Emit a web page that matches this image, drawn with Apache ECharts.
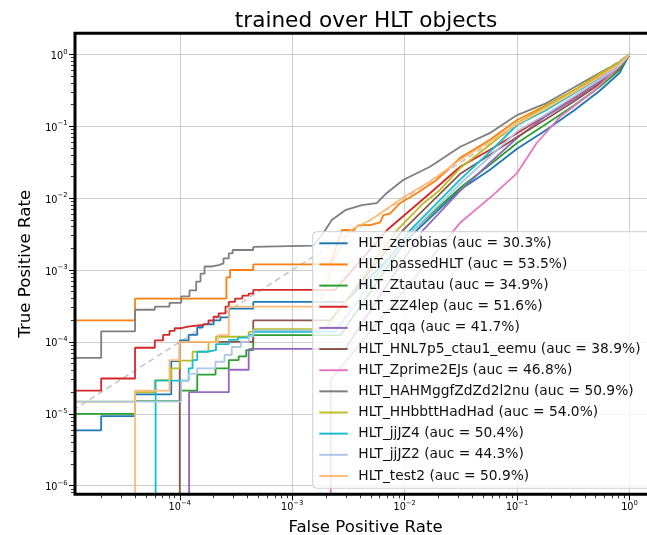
<!DOCTYPE html>
<html>
<head>
<meta charset="utf-8">
<script src="https://cdn.jsdelivr.net/npm/echarts@6/dist/echarts.min.js"></script>
<style>
html,body{margin:0;padding:0;background:#ffffff;}
#chart{width:647px;height:535px;}
</style>
</head>
<body>
<div id="chart"></div>
<script>
// ---------- names, AUC labels, colours ----------
const seriesNames = ['HLT_zerobias','HLT_passedHLT','HLT_Ztautau','HLT_ZZ4lep','HLT_qqa','HLT_HNL7p5_ctau1_eemu','HLT_Zprime2EJs','HLT_HAHMggfZdZd2l2nu','HLT_HHbbttHadHad','HLT_jjJZ4','HLT_jjJZ2','HLT_test2'];
const aucLabels = ['30.3%','53.5%','34.9%','51.6%','41.7%','38.9%','46.8%','50.9%','54.0%','50.4%','44.3%','50.9%'];
const colors = ['#1f77b4','#ff7f0e','#2ca02c','#d62728','#9467bd','#8c564b','#e377c2','#7f7f7f','#bcbd22','#17becf','#aec7e8','#ffbb78'];

// ---------- ROC points [FPR, TPR]; "Low" = staircase region, "High" = upper region ----------
const zerobiasLow = [[1e-6,5.9e-6],[2.0e-5,9.3e-6],[4.0e-5,1.87e-5],[8.4e-5,5.4e-5],[1.0e-4,1.05e-4],[1.2e-4,1.25e-4],[1.43e-4,1.6e-4],[1.6e-4,1.75e-4],[2.0e-4,2.0e-4],[2.3e-4,2.2e-4],[2.73e-4,2.9e-4],[4.5e-4,3.6e-4]];
const zerobiasHigh = [[4.5e-4,3.6e-4],[2.96e-3,3.6e-4],[0.0129,3.6e-3],[0.031,0.013],[0.057,0.0246],[0.1,0.0485],[0.176,0.086],[0.325,0.168],[0.54,0.309],[0.815,0.55],[1,1]];

const passedLow = [[1e-6,2.0e-4],[4.0e-5,4.0e-4],[2.6e-4,7.9e-4],[2.8e-4,1.0e-3],[4.5e-4,1.2e-3]];
const passedHigh = [[4.5e-4,1.2e-3],[2.18e-3,1.2e-3],[2.77e-3,3.6e-3],[3.5e-3,3.6e-3],[3.89e-3,4.2e-3],[4.93e-3,4.2e-3],[6.05e-3,4.6e-3],[6.47e-3,5.8e-3],[7.4e-3,6.1e-3],[9.1e-3,8.5e-3],[0.0128,0.0117],[0.0193,0.0179],[0.031,0.036],[0.057,0.0643],[0.1,0.122],[0.176,0.191],[0.325,0.319],[0.54,0.499],[0.815,0.757],[1,1]];

const ztautauLow = [[1e-6,1.0e-5],[4.0e-5,1.5e-5],[1.0e-4,2.1e-5],[1.43e-4,3.5e-5],[2.08e-4,4.3e-5],[2.73e-4,5.6e-5],[3.34e-4,6.3e-5],[3.9e-4,7.7e-5],[4.5e-4,1.24e-4]];
const ztautauHigh = [[4.5e-4,1.24e-4],[2.67e-3,1.24e-4],[0.0119,3.6e-3],[0.031,0.0138],[0.057,0.0289],[0.1,0.0583],[0.176,0.104],[0.325,0.197],[0.54,0.351],[0.815,0.605],[1,1]];

const zz4lepLow = [[1e-6,2.1e-5],[2.0e-5,3.1e-5],[4.0e-5,8.3e-5],[6.0e-5,1.05e-4],[7.1e-5,1.25e-4],[8.1e-5,1.42e-4],[9.0e-5,1.55e-4],[1.03e-4,1.65e-4],[1.22e-4,1.72e-4],[1.6e-4,1.8e-4],[1.8e-4,2.0e-4],[2.0e-4,2.24e-4],[2.22e-4,2.5e-4],[2.55e-4,3.1e-4],[2.73e-4,3.6e-4],[3.1e-4,4.0e-4],[3.6e-4,4.4e-4],[4.1e-4,4.7e-4],[4.5e-4,5.3e-4]];
const zz4lepHigh = [[4.5e-4,5.3e-4],[2.41e-3,5.3e-4],[6.98e-3,3.6e-3],[0.0168,0.0117],[0.031,0.0271],[0.057,0.0467],[0.1,0.080],[0.176,0.139],[0.325,0.255],[0.54,0.425],[0.815,0.688],[1,1]];

const qqaLow = [[1e-6,1e-7],[1.21e-4,2.0e-5],[2.73e-4,4.1e-5],[4.1e-4,8.0e-5]];
const qqaHigh = [[4.1e-4,8.0e-5],[2.96e-3,8.0e-5],[0.0146,3.6e-3],[0.031,0.0125],[0.057,0.0308],[0.1,0.0685],[0.176,0.134],[0.325,0.239],[0.54,0.399],[0.815,0.666],[1,1]];

const hnlLow = [[1e-6,1e-7],[1.0e-4,1.0e-4],[4.5e-4,2.0e-4]];
const hnlHigh = [[4.5e-4,2.0e-4],[2.18e-3,2.0e-4],[9.68e-3,3.6e-3],[0.031,0.0216],[0.057,0.0398],[0.1,0.0708],[0.176,0.122],[0.325,0.224],[0.54,0.386],[0.815,0.645],[1,1]];

const zprimeLow = [[1e-6,1e-7],[2.2e-3,3.0e-5]];
const zprimeHigh = [[2.2e-3,3.0e-5],[0.031,0.0045],[0.061,0.011],[0.1,0.0223],[0.149,0.058],[0.239,0.134],[0.472,0.299],[0.815,0.688],[1,1]];

const hahmLow = [[1e-6,6.0e-5],[2.0e-5,1.4e-4],[4.0e-5,2.8e-4],[6.0e-5,3.1e-4],[8.1e-5,3.5e-4],[1.03e-4,4.3e-4],[1.22e-4,5.2e-4],[1.4e-4,6.9e-4],[1.53e-4,8.9e-4],[1.66e-4,1.12e-3],[1.95e-4,1.17e-3],[2.22e-4,1.24e-3],[2.45e-4,1.45e-3],[2.73e-4,1.7e-3],[2.95e-4,1.9e-3],[4.5e-4,2.1e-3]];
const hahmHigh = [[4.5e-4,2.1e-3],[1.54e-3,2.18e-3],[1.77e-3,2.88e-3],[1.97e-3,3.6e-3],[2.25e-3,4.95e-3],[2.96e-3,6.8e-3],[4.16e-3,8.0e-3],[5.65e-3,8.5e-3],[6.9e-3,0.0117],[9.7e-3,0.0179],[0.0168,0.0273],[0.031,0.0514],[0.057,0.08],[0.1,0.143],[0.176,0.204],[0.325,0.351],[0.54,0.55],[0.815,0.78],[1,1]];

const hhbbttLow = [[1e-6,1.48e-5],[4.0e-5,2.0e-5],[6.0e-5,2.95e-5],[8.4e-5,4.3e-5],[1.0e-4,5.5e-5],[1.3e-4,7.3e-5],[1.8e-4,1.0e-4],[2.1e-4,1.18e-4],[4.1e-4,1.38e-4],[4.5e-4,1.5e-4]];
const hhbbttHigh = [[4.5e-4,1.5e-4],[1.97e-3,1.5e-4],[8.57e-3,3.6e-3],[0.0119,6.1e-3],[0.0147,8.5e-3],[0.0206,0.013],[0.031,0.026],[0.057,0.0547],[0.1,0.111],[0.176,0.185],[0.325,0.319],[0.54,0.532],[0.815,0.78],[1,1]];

const jjJZ4Low = [[1e-6,1e-7],[6.1e-5,2.9e-5],[1.2e-4,4.3e-5],[1.3e-4,5.6e-5],[1.43e-4,7.3e-5],[1.75e-4,7.7e-5],[2.1e-4,9.3e-5],[2.73e-4,1.07e-4],[3.3e-4,1.15e-4],[4.1e-4,1.25e-4],[4.5e-4,1.38e-4]];
const jjJZ4High = [[4.5e-4,1.38e-4],[2.41e-3,1.38e-4],[0.0112,3.6e-3],[0.031,0.0179],[0.057,0.0438],[0.1,0.104],[0.176,0.163],[0.325,0.29],[0.54,0.468],[0.815,0.733],[1,1]];

const jjJZ2Low = [[1e-6,1.48e-5],[1.03e-4,2.9e-5],[1.2e-4,3.6e-5],[1.43e-4,4.3e-5],[2.08e-4,5.3e-5],[2.5e-4,6.6e-5],[2.9e-4,8.5e-5],[3.5e-4,1.0e-4],[4.1e-4,1.2e-4],[4.5e-4,1.45e-4]];
const jjJZ2High = [[4.5e-4,1.45e-4],[2.41e-3,1.45e-4],[0.0119,3.6e-3],[0.031,0.0157],[0.057,0.0373],[0.1,0.085],[0.176,0.143],[0.325,0.263],[0.54,0.44],[0.815,0.688],[1,1]];

const test2Low = [[1e-6,1e-7],[4.0e-5,2.1e-5],[8.1e-5,5.6e-5],[1.0e-4,1.0e-4],[2.2e-4,1.24e-4],[2.73e-4,3.1e-4]];
const test2High = [[2.73e-4,3.1e-4],[1.7e-3,3.1e-4],[2.4e-3,1.5e-3],[3.3e-3,3.6e-3],[5.0e-3,5.0e-3],[0.01,0.0105],[0.0168,0.017],[0.031,0.0339],[0.057,0.061],[0.1,0.107],[0.176,0.173],[0.325,0.299],[0.54,0.483],[0.815,0.733],[1,1]];

const diagonal = [[1e-6,1e-6],[1,1]];

// ---------- tick values ----------
const xMajorTicks = [1e-4,1e-3,1e-2,1e-1,1];
const xMinorTicks = [2e-5,3e-5,4e-5,5e-5,6e-5,7e-5,8e-5,9e-5,2e-4,3e-4,4e-4,5e-4,6e-4,7e-4,8e-4,9e-4,2e-3,3e-3,4e-3,5e-3,6e-3,7e-3,8e-3,9e-3,2e-2,3e-2,4e-2,5e-2,6e-2,7e-2,8e-2,9e-2,0.2,0.3,0.4,0.5,0.6,0.7,0.8,0.9];
const yMajorTicks = [1e-6,1e-5,1e-4,1e-3,1e-2,1e-1,1];
const yMinorTicks = [8e-7,9e-7,2e-6,3e-6,4e-6,5e-6,6e-6,7e-6,8e-6,9e-6,2e-5,3e-5,4e-5,5e-5,6e-5,7e-5,8e-5,9e-5,2e-4,3e-4,4e-4,5e-4,6e-4,7e-4,8e-4,9e-4,2e-3,3e-3,4e-3,5e-3,6e-3,7e-3,8e-3,9e-3,2e-2,3e-2,4e-2,5e-2,6e-2,7e-2,8e-2,9e-2,0.2,0.3,0.4,0.5,0.6,0.7,0.8,0.9];

const lowParts = [zerobiasLow,passedLow,ztautauLow,zz4lepLow,qqaLow,hnlLow,zprimeLow,hahmLow,hhbbttLow,jjJZ4Low,jjJZ2Low,test2Low];
const highParts = [zerobiasHigh,passedHigh,ztautauHigh,zz4lepHigh,qqaHigh,hnlHigh,zprimeHigh,hahmHigh,hhbbttHigh,jjJZ4High,jjJZ2High,test2High];

const FONT = 'DejaVu Sans';
function powLabel(v){
  const n = Math.round(Math.log10(v));
  return '{b|10}{s|' + (n < 0 ? '\u2212' + (-n) : String(n)) + '}';
}
const labelRich = {
  b: {fontFamily: FONT, fontSize: 9.7, color: '#000', lineHeight: 16},
  s: {fontFamily: FONT, fontSize: 6.8, color: '#000', lineHeight: 9, verticalAlign: 'top'}
};

const legendNames = seriesNames.map((n,i) => n + ' (auc = ' + aucLabels[i] + ')');

const series = [{
  type: 'line', name: 'diag', data: diagonal, symbol: 'none', silent: true,
  lineStyle: {color: '#c4c4c4', width: 1.5, type: [6,4]}, emphasis: {disabled: true}
}];
legendNames.forEach((nm, i) => {
  series.push({
    type: 'line', name: nm, data: lowParts[i], step: 'end', symbol: 'none', showSymbol: false, silent: true,
    lineStyle: {color: colors[i], width: 1.8}, itemStyle: {color: colors[i]}, emphasis: {disabled: true}
  });
  series.push({
    type: 'line', name: nm, data: highParts[i], symbol: 'none', showSymbol: false, silent: true,
    lineStyle: {color: colors[i], width: 1.8}, itemStyle: {color: colors[i]}, emphasis: {disabled: true}
  });
});

const xCommon = {type: 'log', logBase: 10, min: 1.17e-5, max: 1.72, gridIndex: 0, position: 'bottom'};
const yCommon = {type: 'log', logBase: 10, min: 7.6e-7, max: 1.96, gridIndex: 0, position: 'left'};

const option = {
  animation: false,
  backgroundColor: '#ffffff',
  title: {
    text: 'trained over HLT objects', left: 366, top: 10, textAlign: 'center', padding: 0,
    textStyle: {fontFamily: FONT, fontSize: 21.6, fontWeight: 'normal', color: '#000'}
  },
  grid: {
    left: 75, top: 33.3, width: 581, height: 461, show: true, z: 5,
    borderColor: '#000', borderWidth: 3, backgroundColor: 'transparent',
    outerBoundsMode: 'none', containLabel: false
  },
  legend: {
    data: legendNames, orient: 'vertical', left: 312.7, top: 231.7,
    itemWidth: 28.4, itemHeight: 14, itemGap: 7.15,
    padding: [4.6, 12, 5.3, 5.6], selectedMode: false,
    itemStyle: {opacity: 0, borderWidth: 0},
    lineStyle: {width: 2},
    backgroundColor: 'rgba(255,255,255,0.8)', borderColor: '#cfcfcf', borderWidth: 1, borderRadius: 4,
    textStyle: {fontFamily: FONT, fontSize: 13.8, color: '#111', lineHeight: 14, padding: [0,0,0,5.6]}
  },
  xAxis: [
    Object.assign({}, xCommon, {
      name: 'False Positive Rate', nameLocation: 'middle', nameGap: 24.5,
      nameTextStyle: {fontFamily: FONT, fontSize: 16.6, color: '#000'},
      axisLine: {show: false, onZero: false},
      axisTick: {show: true, customValues: xMajorTicks, length: 6, lineStyle: {color: '#000', width: 1}},
      axisLabel: {show: true, customValues: xMajorTicks, margin: 5.5, formatter: powLabel, rich: labelRich},
      splitLine: {show: true, lineStyle: {color: '#cccccc', width: 1}}
    }),
    Object.assign({}, xCommon, {
      axisLine: {show: false, onZero: false},
      axisTick: {show: true, customValues: xMinorTicks, length: 4, lineStyle: {color: '#000', width: 0.8}},
      axisLabel: {show: false}, splitLine: {show: false}
    })
  ],
  yAxis: [
    Object.assign({}, yCommon, {
      name: 'True Positive Rate', nameLocation: 'middle', nameGap: 39,
      nameTextStyle: {fontFamily: FONT, fontSize: 16.6, color: '#000'},
      axisLine: {show: false, onZero: false},
      axisTick: {show: true, customValues: yMajorTicks, length: 6, lineStyle: {color: '#000', width: 1}},
      axisLabel: {show: true, customValues: yMajorTicks, margin: 7.5, formatter: powLabel, rich: labelRich, padding: [4,0,0,0]},
      splitLine: {show: true, lineStyle: {color: '#cccccc', width: 1}}
    }),
    Object.assign({}, yCommon, {
      axisLine: {show: false, onZero: false},
      axisTick: {show: true, customValues: yMinorTicks, length: 4, lineStyle: {color: '#000', width: 0.8}},
      axisLabel: {show: false}, splitLine: {show: false}
    })
  ],
  series: series
};

const chart = echarts.init(document.getElementById('chart'), null, {renderer: 'canvas'});
chart.setOption(option);
</script>
</body>
</html>
